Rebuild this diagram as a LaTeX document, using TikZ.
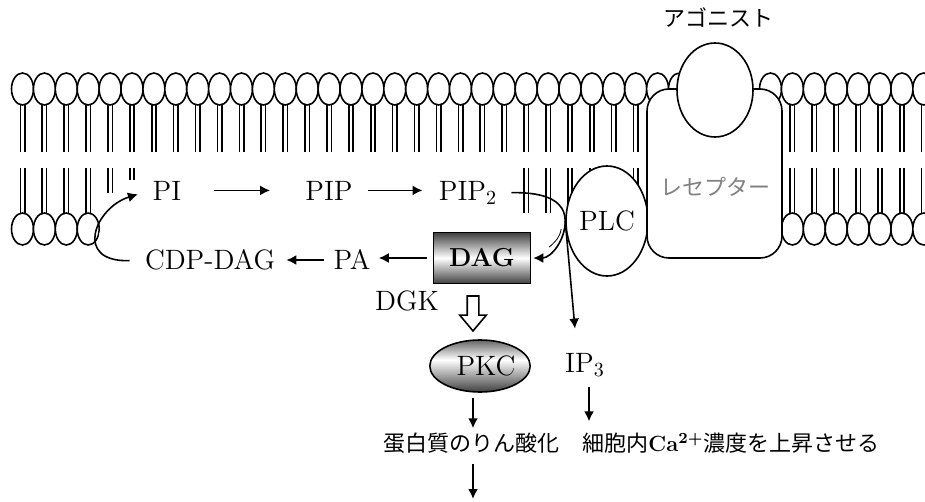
\documentclass[tikz,border=0pt]{standalone}
\usepackage{fontspec}
\newfontfamily\jp{Noto Sans CJK JP}
\usetikzlibrary{arrows.meta,shapes.geometric,shapes.arrows}

\pgfdeclareverticalshading{pkcshade}{100bp}{color(0bp)=(black!75); color(25bp)=(black!75); color(56bp)=(white); color(75bp)=(black!60); color(100bp)=(black!60)}

\tikzset{
  lbl/.style={font=\fontsize{14}{16}\selectfont, inner sep=1pt, anchor=base},
  jlbl/.style={font=\jp\fontsize{11}{14}\selectfont, inner sep=1pt},
  head/.style={draw, line width=0.8pt, fill=white},
  tail/.style={line width=0.8pt},
  flow/.style={line width=0.8pt, -{Latex[length=5pt,width=5pt]}},
  down/.style={line width=1.2pt, -{Latex[length=5pt,width=5pt]}},
}

\begin{document}
\begin{tikzpicture}[x=0.5pt,y=-0.5pt]
\useasboundingbox (0,0) rectangle (925,502);

% membrane
\begin{scope}
  \clip (0,0) rectangle (925,502);
  \foreach \k in {0,...,30} {
    \pgfmathsetmacro\x{22.5+21.9*\k}
    \draw[tail] (\x-2.2,105) -- (\x-2.2,152) (\x+2.2,105) -- (\x+2.2,152);
    \draw[head] (\x,89) ellipse [x radius=11, y radius=16];
  }
  \foreach \k in {0,...,3} {
    \pgfmathsetmacro\x{22.5+21.9*\k}
    \draw[tail] (\x-2.2,168) -- (\x-2.2,213) (\x+2.2,168) -- (\x+2.2,213);
    \draw[head] (\x,229) ellipse [x radius=11, y radius=16];
  }
  \foreach \k/\b in {4/193,5/180} {
    \pgfmathsetmacro\x{22.5+21.9*\k}
    \draw[tail] (\x-2.2,168) -- (\x-2.2,\b) (\x+2.2,168) -- (\x+2.2,\b);
  }
  \foreach \k in {23,...,28} {
    \pgfmathsetmacro\x{22.5+21.9*\k}
    \draw[tail] (\x-2.2,168) -- (\x-2.2,213) (\x+2.2,168) -- (\x+2.2,213);
  }
  \foreach \k in {0,...,7} {
    \pgfmathsetmacro\x{770.5+21.9*\k}
    \draw[tail] (\x-2.2,105) -- (\x-2.2,152) (\x+2.2,105) -- (\x+2.2,152);
    \draw[tail] (\x-2.2,168) -- (\x-2.2,213) (\x+2.2,168) -- (\x+2.2,213);
    \draw[head] (\x,89) ellipse [x radius=11, y radius=16];
    \draw[head] (\x,229) ellipse [x radius=11, y radius=16];
  }
\end{scope}

% labels of the cycle
\node[lbl] (pi) at (167,200) {PI};
\node[lbl] (pip) at (329,200) {PIP};
\node[lbl] (pip2) at (468,200) {PIP$_2$};
\node[lbl] (cdp) at (210,270) {CDP-DAG};
\node[lbl] (pa) at (352,270) {PA};
\node[lbl] (dgk) at (407,310) {DGK};
\node[lbl] (ip3) at (585,372) {IP$_3$};

% proteins
\node[ellipse, draw, line width=0.8pt, fill=white, minimum width=41pt, minimum height=55pt, inner sep=0pt,
  font=\fontsize{14}{16}\selectfont] (plc) at (607,221) {PLC};
\node[draw, line width=0.8pt, fill=white, rounded corners=11pt, minimum width=67.5pt, minimum height=84.5pt] (rec) at (714.5,173.5) {};
\node[ellipse, draw, line width=0.8pt, fill=white, minimum width=38pt, minimum height=47pt] (ago) at (715,90) {};
\node[jlbl, text=black!50] (recl) at (715,187) {レセプター};
\node[jlbl] (agon) at (718,18) {アゴニスト};

\node[draw, line width=0.8pt, top color=black!75, bottom color=black!75, middle color=white,
  minimum width=48.5pt, minimum height=25.5pt, inner sep=0pt, font=\fontsize{13}{15}\selectfont\bfseries] (dag) at (482,258) {DAG};
\node[single arrow, draw, line width=0.8pt, shape border rotate=270, minimum height=17.5pt, minimum width=12.5pt,
  single arrow head extend=3.75pt, single arrow tip angle=80, inner sep=2.5pt] (hollow) at (473,310) {};
\node[ellipse, draw, line width=0.8pt, shading=pkcshade, minimum width=42pt, minimum height=26pt,
  inner sep=0pt, font=\fontsize{14}{16}\selectfont] (pkc) at (480,366) {\hspace{6pt}PKC};

\node[jlbl] (prot) at (471,443) {蛋白質のりん酸化};
\node[jlbl, anchor=west] (ca) at (580,443) {細胞内{\rmfamily\bfseries Ca\textsuperscript{2+}}濃度を上昇させる};
\coordinate (end) at (473,499);

% cycle
\fill[white] (cdp.west) .. controls +(-70,2) and +(-55,17) .. (pi.west) -- cycle;
\draw[flow, shorten <=6.5pt, shorten >=6.5pt] (cdp.west) .. controls +(-70,2) and +(-55,17) .. (pi.west);
\draw[flow, shorten <=15pt, shorten >=16.5pt] (pi.east) -- (pi.east -| pip.west);
\draw[flow, shorten <=6.5pt, shorten >=7pt] (pip.east) -- (pip.east -| pip2.west);
\draw[line width=0.8pt, shorten <=6pt] (pip2.east) to[out=0, in=90] (plc.west);
\draw[flow, shorten >=1pt] (plc.west) to[out=-90, in=0] (dag.east);
\draw[line width=0.4pt] ([shift={(-2pt,-4pt)}]plc.west) to[out=-100, in=40] ([shift={(-8pt,-13pt)}]plc.west);
\draw[flow, shorten >=11pt] (plc.west) -- ([xshift=-4pt]ip3.north);
\draw[flow, shorten <=3pt, shorten >=3pt] (dag.west) -- (dag.west -| pa.east);
\draw[flow, shorten <=3.5pt, shorten >=4.5pt] (pa.west) -- (pa.west -| cdp.east);

% below
\draw[down, shorten <=2.5pt, shorten >=1pt] (pkc.south -| end) -- (prot.north -| end);
\draw[down, shorten <=4pt] (prot.south -| end) -- (end);
\draw[down, shorten <=4pt, shorten >=4.5pt] ([xshift=2pt]ip3.south) -- ([xshift=2pt]ip3.south |- ca.north);
\end{tikzpicture}
\end{document}
